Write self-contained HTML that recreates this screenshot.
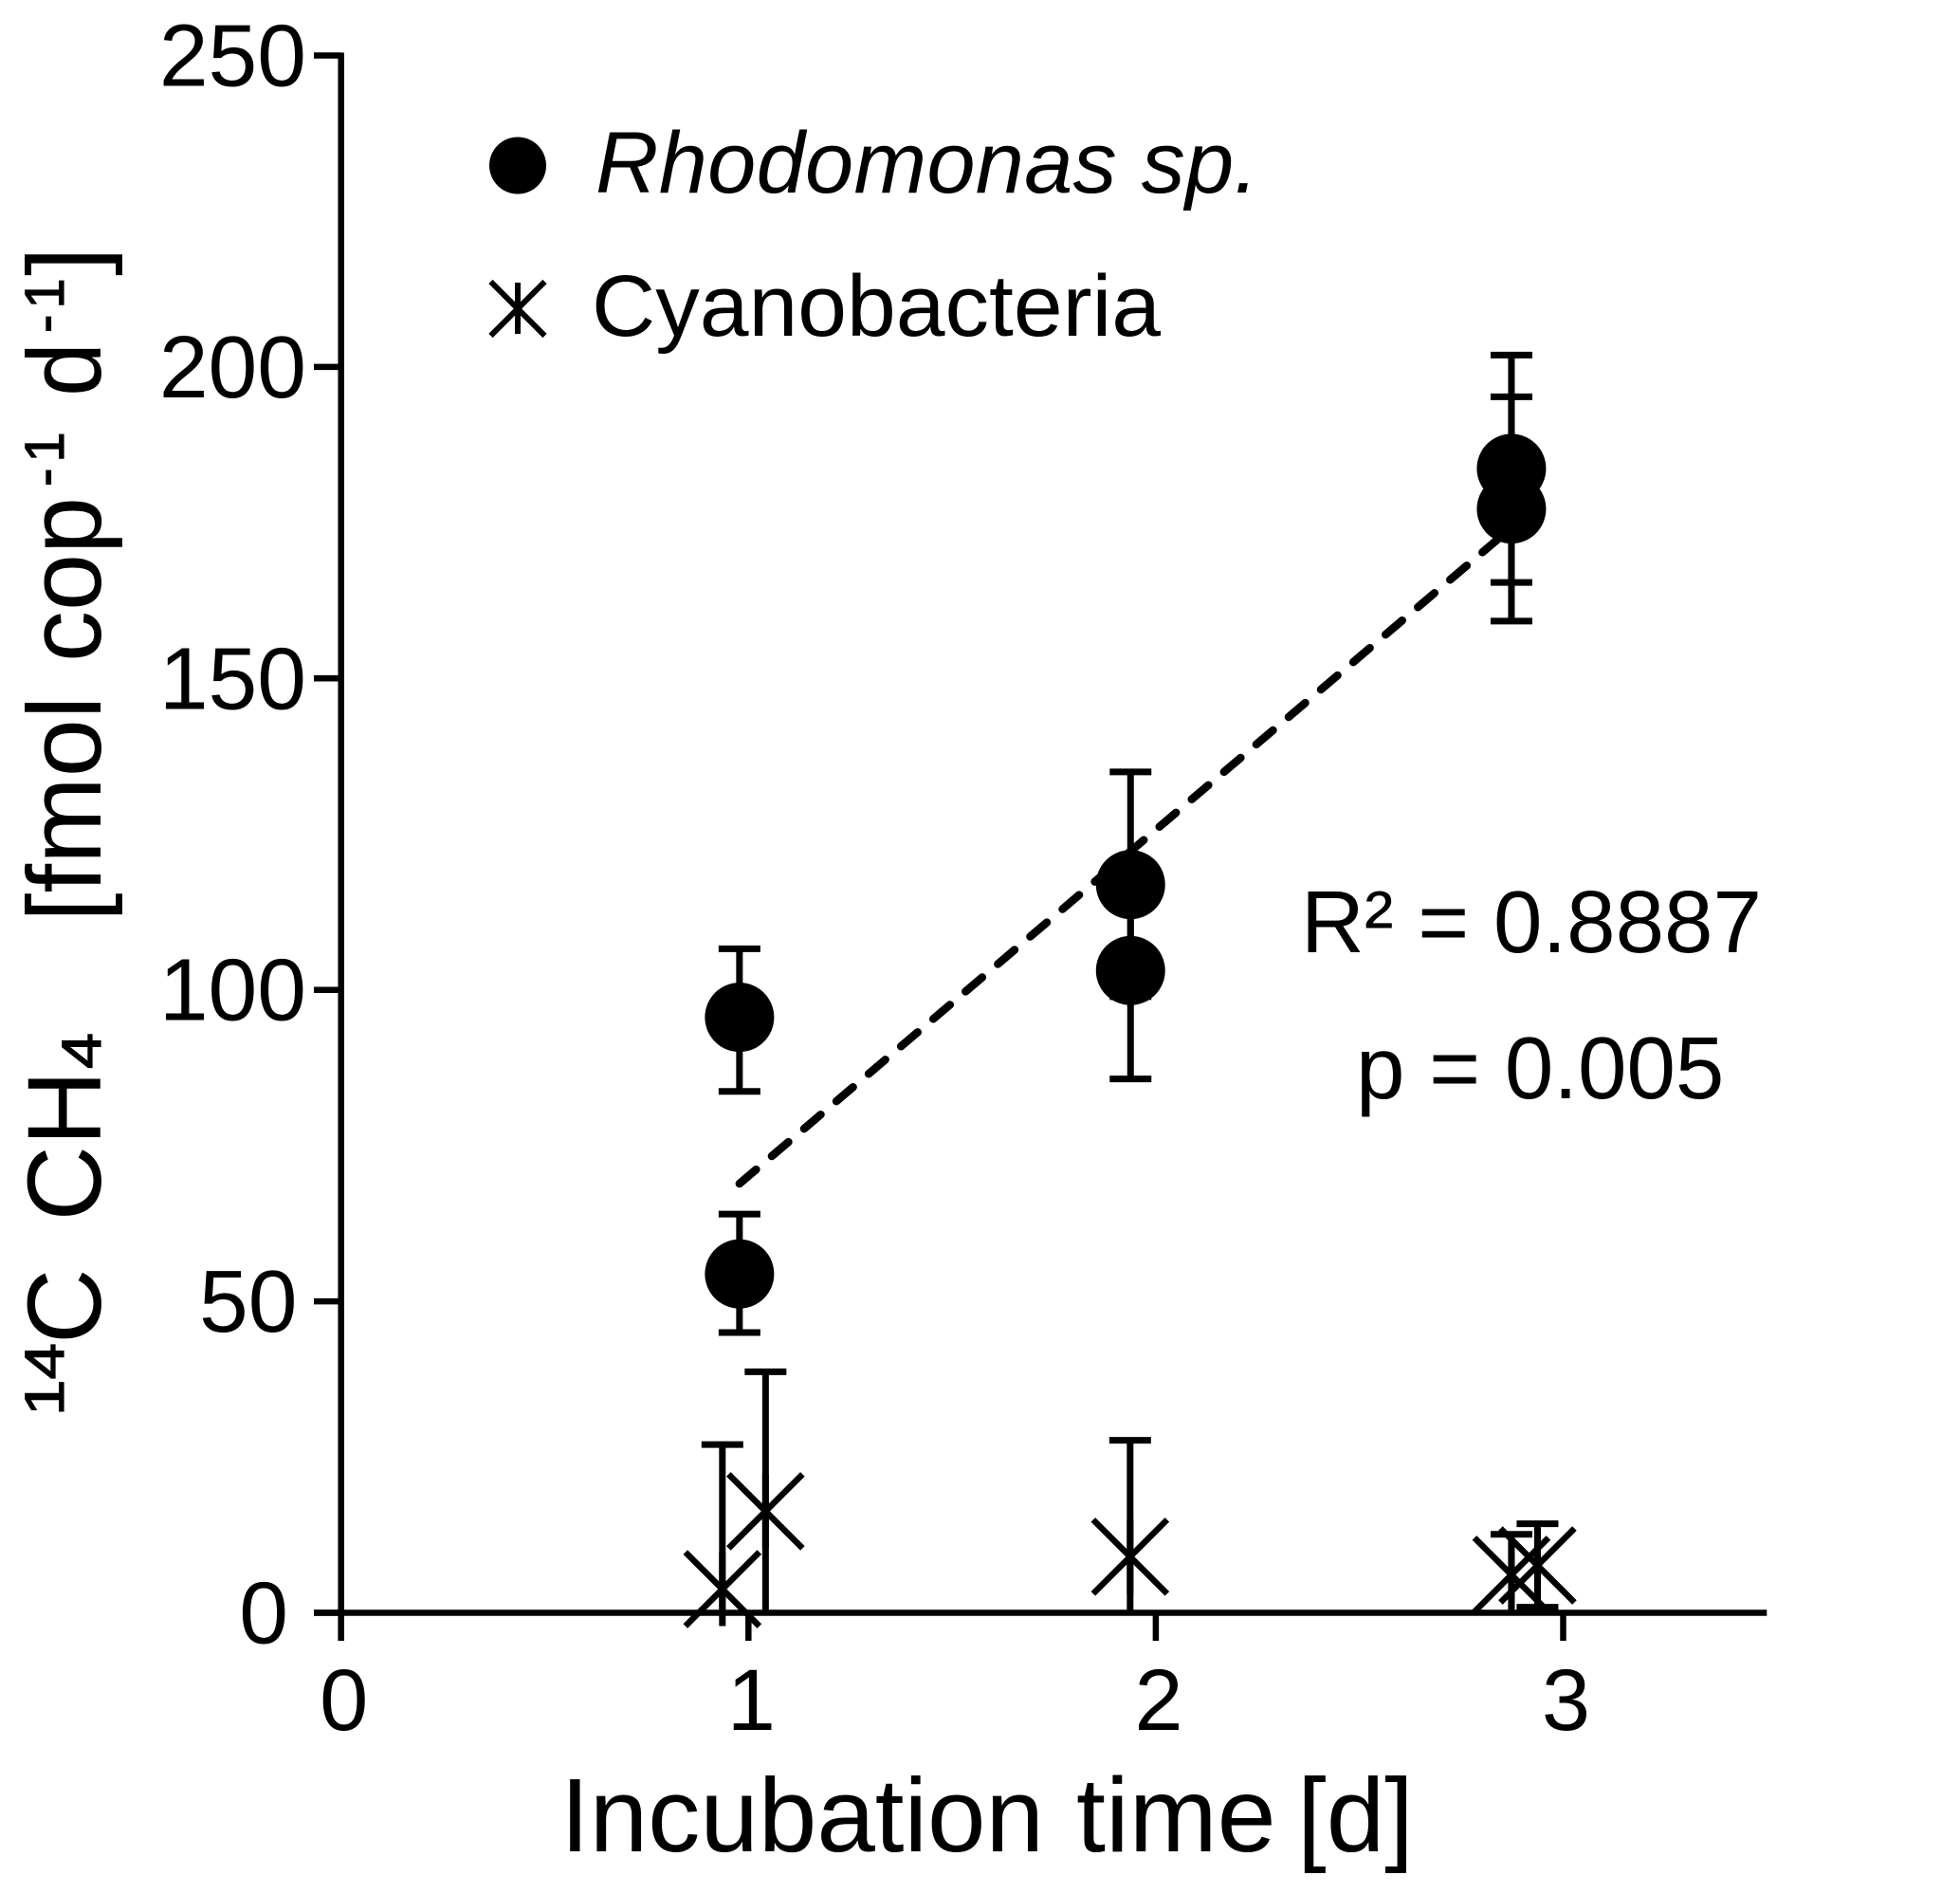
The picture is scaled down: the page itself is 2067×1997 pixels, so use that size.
<!DOCTYPE html>
<html lang="en">
<head>
<meta charset="utf-8">
<title>14C CH4 versus incubation time</title>
<style>
html,body{margin:0;padding:0;background:#fff}
svg{display:block}
text{font-family:"Liberation Sans",Arial,sans-serif;fill:#000}
</style>
</head>
<body>
<svg id="chart" xmlns="http://www.w3.org/2000/svg" width="2067" height="1997" viewBox="0 0 2067 1997">
  <rect x="0" y="0" width="2067" height="1997" fill="#fff"/>

  <g id="axes"></g>
  <g id="marks"></g>

  <g transform="translate(106,0) rotate(-90)">
    <text x="-1493" y="-39" font-size="58" textLength="77" lengthAdjust="spacingAndGlyphs" stroke="#000" stroke-width="1.2">14</text>
    <text x="-1417" y="0" font-size="110">C</text>
    <text x="-1287.5" y="0" font-size="110">CH</text>
    <text x="-1127" y="0" font-size="58" textLength="38" lengthAdjust="spacingAndGlyphs" stroke="#000" stroke-width="1.2">4</text>
    <text x="-972" y="0" font-size="110">[fmol</text>
    <text x="-698" y="0" font-size="110" textLength="174" lengthAdjust="spacingAndGlyphs">cop</text>
    <text x="-513" y="-39" font-size="58" letter-spacing="6" stroke="#000" stroke-width="1.2">-1</text>
    <text x="-418" y="0" font-size="110" textLength="57" lengthAdjust="spacingAndGlyphs">d</text>
    <text x="-351" y="-39" font-size="58" letter-spacing="6" stroke="#000" stroke-width="1.2">-1</text>
    <text x="-291" y="0" font-size="110">]</text>
  </g>

  <g>
    <text x="591" y="1952" font-size="110.5">Incubation</text>
    <text x="1135" y="1952" font-size="111.5">time</text>
    <text x="1368" y="1952" font-size="110.5">[d]</text>
  </g>

  <g>
    <circle cx="546" cy="174.5" r="30" fill="#000"/>
    <text x="628" y="203" font-size="92" font-style="italic" textLength="699" lengthAdjust="spacing">Rhodomonas sp.</text>
    <g stroke="#000" stroke-width="6">
      <line x1="517.5" y1="297" x2="574.5" y2="354"/>
      <line x1="517.5" y1="354" x2="574.5" y2="297"/>
      <line x1="546" y1="298" x2="546" y2="352"/>
    </g>
    <text x="624" y="354" font-size="92" textLength="600" lengthAdjust="spacingAndGlyphs">Cyanobacteria</text>
  </g>

  <text x="1372" y="1004" font-size="92.5">R² = 0.8887</text>
  <text x="1430" y="1158" font-size="92.5">p = 0.005</text>
</svg>

<script>
const yTickValues = [0, 50, 100, 150, 200, 250];
const xTickValues = [0, 1, 2, 3];

const rhodoDays  = [0.978, 0.978, 1.938, 1.938, 2.873, 2.873];
const rhodoMeans = [54.4, 95.6, 116.9, 103.1, 183.7, 177.2];
const rhodoUpper = [64, 106.6, 135, 120.5, 201.9, 195.2];
const rhodoLower = [45, 83.7, 98.9, 85.7, 165.4, 159.2];

const cyanoDays  = [0.936, 1.042, 1.937, 2.873, 2.937];
const cyanoMeans = [3.8, 16.3, 9.0, 6.1, 7.6];
const cyanoUpper = [27, 38.7, 27.7, 12.6, 14.3];
const cyanoLower = [0, 0, 0, 0, 0.9];

const fitDays   = [0.978, 2.873];
const fitValues = [68.9, 174.2];

const SVG_NS = 'http://www.w3.org/2000/svg';
const INK = '#000';
const axesLayer = document.getElementById('axes');
const marksLayer = document.getElementById('marks');

function xScale(v) { return 359.7 + v * 429.6; }
function yScale(v) { return 1700.5 - v * 6.568; }

function strokeLine(parent, x1, y1, x2, y2, width) {
  const el = document.createElementNS(SVG_NS, 'line');
  el.setAttribute('x1', x1);
  el.setAttribute('y1', y1);
  el.setAttribute('x2', x2);
  el.setAttribute('y2', y2);
  el.setAttribute('stroke', INK);
  el.setAttribute('stroke-width', width);
  parent.appendChild(el);
  return el;
}

function newGroup(parent) {
  const g = document.createElementNS(SVG_NS, 'g');
  parent.appendChild(g);
  return g;
}

/* axes */
const yAxisLine = strokeLine(axesLayer, xScale(0), yScale(250) - 3, xScale(0), 1730, 6.5);



const xAxisLine = strokeLine(axesLayer, 331, yScale(0), xScale(3.5), yScale(0), 6.5);



yTickValues.forEach(function (v) {
  const tick = strokeLine(axesLayer, 331, yScale(v), xScale(0), yScale(v), 6.5);
  
  

  const label = document.createElementNS(SVG_NS, 'text');
  const digits = String(v).length;
  
  
  label.setAttribute('x', 304 + 9.5 * (digits - 1));
  label.setAttribute('y', yScale(v) + 32);
  label.setAttribute('font-size', '93');
  label.setAttribute('text-anchor', 'end');
  label.textContent = String(v);
  axesLayer.appendChild(label);
});

xTickValues.forEach(function (v) {
  const tick = strokeLine(axesLayer, xScale(v), yScale(0), xScale(v), 1730, 6.5);
  
  

  const label = document.createElementNS(SVG_NS, 'text');
  
  
  label.setAttribute('x', xScale(v) + 3);
  label.setAttribute('y', 1824);
  label.setAttribute('font-size', '92');
  label.setAttribute('text-anchor', 'middle');
  label.textContent = String(v);
  axesLayer.appendChild(label);
});

/* error bars shared drawing */
function drawErrorBar(parent, day, upper, lower, drawLowerCap) {
  const px = xScale(day);
  const capHalf = 22;
  strokeLine(parent, px, yScale(upper), px, yScale(lower), 7);
  strokeLine(parent, px - capHalf, yScale(upper), px + capHalf, yScale(upper), 7);
  if (drawLowerCap) {
    strokeLine(parent, px - capHalf, yScale(lower), px + capHalf, yScale(lower), 7);
  }
}

/* Rhodomonas error bars */
rhodoDays.forEach(function (day, i) {
  const g = newGroup(marksLayer);
  
  
  drawErrorBar(g, day, rhodoUpper[i], rhodoLower[i], true);
});

/* regression line */
const fitLine = strokeLine(marksLayer, xScale(fitDays[0]), yScale(fitValues[0]), xScale(fitDays[1]), yScale(fitValues[1]), 8.5);


fitLine.setAttribute('stroke-dasharray', '23 21.7');
fitLine.setAttribute('stroke-linecap', 'round');

/* Rhodomonas points */
rhodoDays.forEach(function (day, i) {
  const dot = document.createElementNS(SVG_NS, 'circle');
  
  
  dot.setAttribute('cx', xScale(day));
  dot.setAttribute('cy', yScale(rhodoMeans[i]));
  dot.setAttribute('r', 36.5);
  dot.setAttribute('fill', INK);
  marksLayer.appendChild(dot);
});

/* Cyanobacteria points with error bars */
cyanoDays.forEach(function (day, i) {
  const bar = newGroup(marksLayer);
  
  
  drawErrorBar(bar, day, cyanoUpper[i], cyanoLower[i], cyanoLower[i] > 0);

  const mark = newGroup(marksLayer);
  
  
  const px = xScale(day);
  const py = yScale(cyanoMeans[i]);
  const half = 39;
  strokeLine(mark, px - half, py - half, px + half, py + half, 6.5);
  strokeLine(mark, px - half, py + half, px + half, py - half, 6.5);
  strokeLine(mark, px, py - half, px, py + half, 7);
});
</script>
</body>
</html>
